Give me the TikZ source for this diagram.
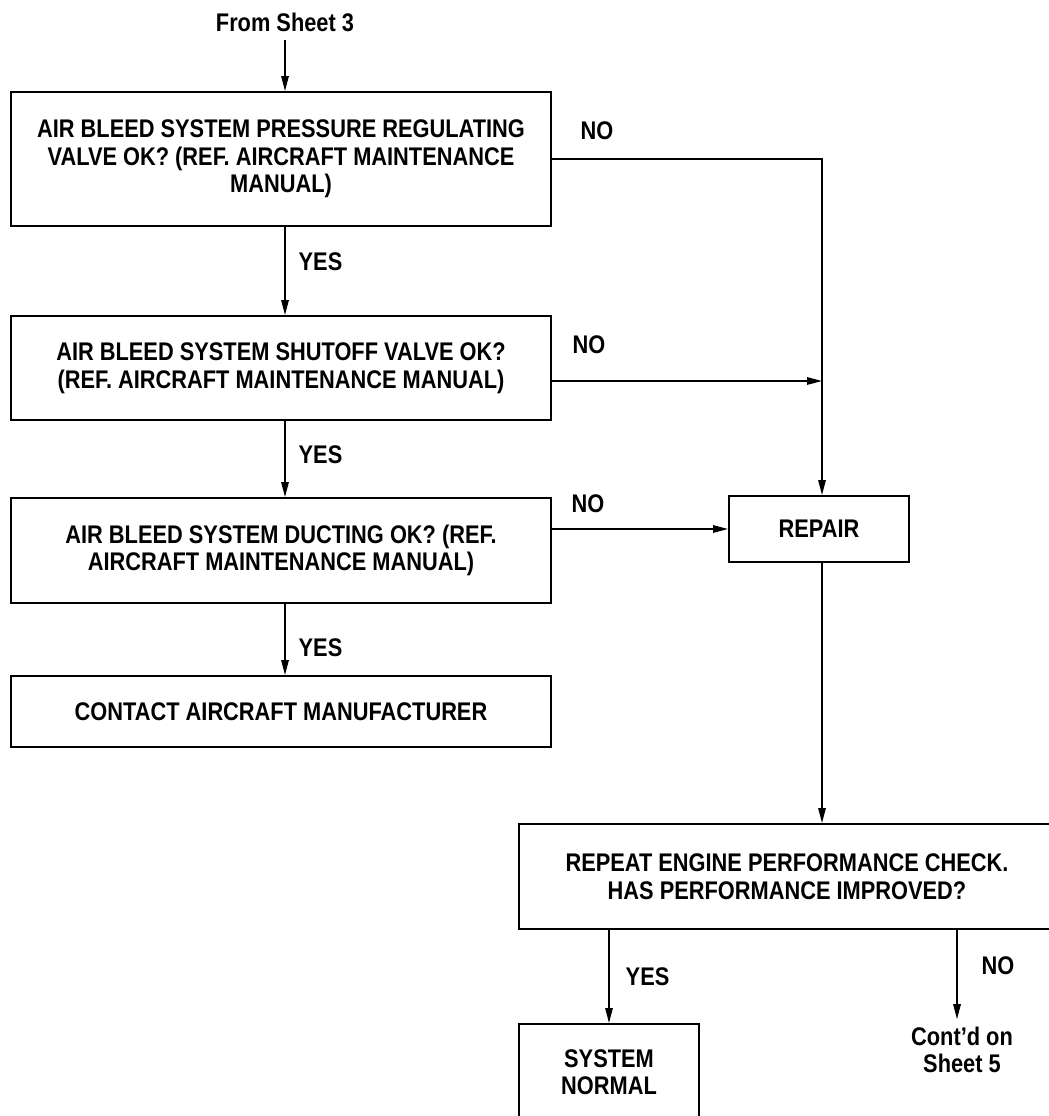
\documentclass[tikz,border=0pt]{standalone}
\usepackage{fontspec}
\setmainfont{Liberation Sans}[FakeStretch=0.855]
\usetikzlibrary{arrows.meta}

\begin{document}
\begin{tikzpicture}[x=1pt, y=-1pt,
   -{Triangle[length=15pt, width=7.5pt]}, line width=1.4pt,
   font=\bfseries\fontsize{25.5}{27.5}\selectfont,
   box/.style = {draw, -, line width=2pt, inner sep=0pt, align=center},
   lbl/.style = {inner sep=0pt, align=center}]
   \clip (0,0) rectangle (1049,1116);
   \useasboundingbox (0,0) rectangle (1049,1116);

   % left column of checks
   \node[lbl] (from3) at (285,22) {From Sheet 3};
   \node[box, minimum width=540, minimum height=134] (pressure) at (281,159)
      {AIR BLEED SYSTEM PRESSURE REGULATING\\VALVE OK? (REF. AIRCRAFT MAINTENANCE\\MANUAL)};
   \node[box, minimum width=540, minimum height=104] (shutoff) at (281,368)
      {AIR BLEED SYSTEM SHUTOFF VALVE OK?\\(REF. AIRCRAFT MAINTENANCE MANUAL)};
   \node[box, minimum width=540, minimum height=105] (ducting) at (281,550.5)
      {AIR BLEED SYSTEM DUCTING OK? (REF.\\AIRCRAFT MAINTENANCE MANUAL)};
   \node[box, minimum width=540, minimum height=71] (contact) at (281,711.5)
      {CONTACT AIRCRAFT MANUFACTURER};

   % right side
   \node[box, minimum width=180, minimum height=66] (repair) at (819,529) {REPAIR};
   \node[box, minimum width=536, minimum height=105] (improved) at (787,876.5)
      {REPEAT ENGINE PERFORMANCE CHECK.\\HAS PERFORMANCE IMPROVED?};
   \node[box, minimum width=180, minimum height=96, anchor=north] (normal) at (609,1023)
      {SYSTEM\\NORMAL};
   \node[lbl] (cont) at (962,1050) {Cont’d on\\Sheet 5};

   \coordinate (bus) at ([xshift=3pt]repair.north);
   \coordinate (no2) at ([yshift=-13pt]shutoff.east);
   \coordinate (nodrop) at ([xshift=-5pt]cont.north);

   \draw[shorten <=8pt] (from3) -- (from3 |- pressure.north);
   \draw ([xshift=4pt]pressure.south) -- node[lbl, right=13pt, pos=0.4]{YES} ([xshift=4pt]shutoff.north);
   \draw ([xshift=4pt]shutoff.south) -- node[lbl, right=13pt, pos=0.45]{YES} ([xshift=4pt]ducting.north);
   \draw ([xshift=4pt]ducting.south) -- node[lbl, right=13pt, pos=0.62]{YES} ([xshift=4pt]contact.north);
   %
   \draw (pressure.east) -| node[lbl, pos=0, anchor=south west, xshift=28pt, yshift=19pt]{NO} (bus);
   \draw (no2) -- node[lbl, pos=0, anchor=south west, xshift=20pt, yshift=27pt]{NO} (no2 -| bus);
   \draw (ducting.east |- repair.west) -- node[lbl, pos=0, anchor=south west, xshift=19pt, yshift=16pt]{NO} (repair.west);
   %
   \draw (bus |- repair.south) -- (bus |- improved.north);
   \draw (normal |- improved.south) -- node[lbl, right=16pt, pos=0.5]{YES} (normal);
   \draw[shorten >=7pt] (nodrop |- improved.south) -- node[lbl, right=24pt, pos=0.37]{NO} (nodrop);
\end{tikzpicture}
\end{document}
